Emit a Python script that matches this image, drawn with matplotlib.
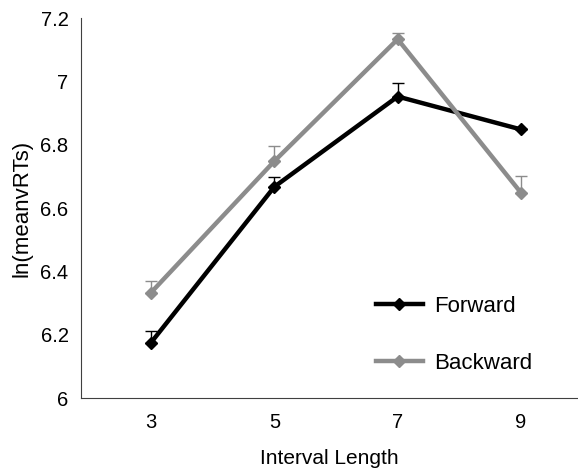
import matplotlib
matplotlib.use("Agg")
import matplotlib.pyplot as plt
import matplotlib.ticker as ticker
import numpy as np

plt.rcParams["font.family"] = ["Liberation Sans", "DejaVu Sans"]

# ---------------------------------------------------------------------------
# Data
# ---------------------------------------------------------------------------
intervals = ["3", "5", "7", "9"]
forward = [6.175, 6.667, 6.952, 6.848]
forward_err = [0.037, 0.032, 0.044, 0.0]
backward = [6.333, 6.748, 7.133, 6.648]
backward_err = [0.036, 0.048, 0.019, 0.053]

SERIES = [
    (forward, forward_err, "black", "Forward"),
    (backward, backward_err, "#8c8c8c", "Backward"),
]

fig = plt.figure(figsize=(5.78, 4.73), dpi=100)
ax = fig.add_axes([81 / 578, 75 / 473, 497 / 578, 380 / 473])

x = np.arange(len(intervals))

handles = []
for vals, errs, color, label in SERIES:
    ax.errorbar(x, vals, yerr=[np.zeros(len(errs)), errs],
                fmt="none", ecolor=color, elinewidth=1,
                capsize=4, capthick=1)
    line, = ax.plot(x, vals, color=color, linewidth=3.2, marker="D",
                    markersize=6.5, label=label)
    handles.append(line)

# category 3 sits at x~151px, 9 at ~521px
ax.set_xlim(-0.568, 3.462)
ax.set_ylim(6, 7.2)
ax.set_xticks(x)
ax.set_xticklabels(intervals)
ax.yaxis.set_major_locator(ticker.MultipleLocator(0.2))
ax.yaxis.set_major_formatter(ticker.FuncFormatter(lambda v, _: f"{v:g}"))
ax.tick_params(length=0, labelsize=14.5)
ax.tick_params(axis="x", pad=11)
ax.tick_params(axis="y", pad=9)

for side in ("top", "right"):
    ax.spines[side].set_visible(False)
ax.spines["left"].set_color("#404040")
ax.spines["bottom"].set_color("#404040")

ax.set_xlabel("Interval Length", fontsize=15, labelpad=12)
ax.set_ylabel("ln(meanvRTs)", fontsize=16, labelpad=6)

fig.legend(handles=handles, loc="upper left",
           bbox_to_anchor=(376 / 578, 1 - 296 / 473),
           frameon=False, fontsize=16, borderpad=0, borderaxespad=0,
           handlelength=2.1, handletextpad=0.5, labelspacing=1.6)

plt.savefig("out.png", dpi=100)
